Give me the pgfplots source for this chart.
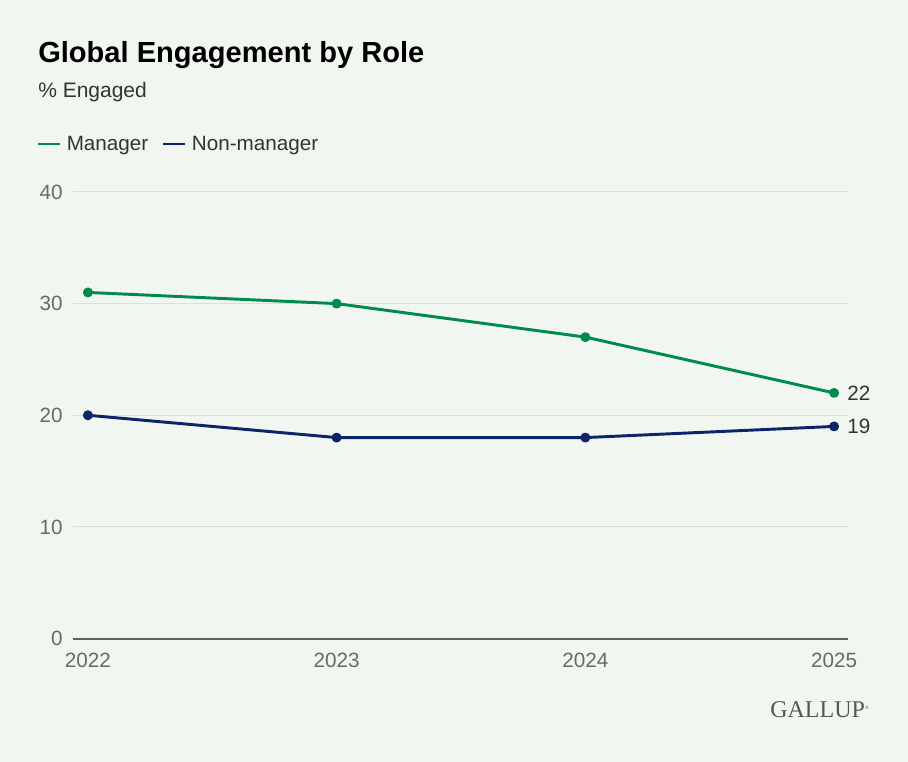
\documentclass[border=0pt]{standalone}
\usepackage{fontspec}
\setmainfont{Liberation Sans}
\newfontfamily\gallupfont{Liberation Serif}
\usepackage{pgfplots}
\pgfplotsset{compat=1.18}
\definecolor{bg}{RGB}{241,247,240}
\definecolor{mgr}{RGB}{0,138,76}
\definecolor{nonmgr}{RGB}{12,36,104}
\definecolor{gridc}{RGB}{218,223,216}
\definecolor{axisc}{RGB}{95,99,94}
\definecolor{tickc}{RGB}{105,105,105}
\definecolor{txt}{RGB}{51,51,51}
\definecolor{logo}{RGB}{85,85,85}
\begin{document}
\begin{tikzpicture}
\fill[bg] (0,0) rectangle (681pt,571.5pt);
\useasboundingbox (0,0) rectangle (681pt,571.5pt);
\node[anchor=base west, inner sep=0pt, font=\fontsize{21.8pt}{24pt}\selectfont\bfseries] at (28.5pt,524.25pt) {Global Engagement by Role};
\node[anchor=base west, inner sep=0pt, text=txt, font=\fontsize{15.75pt}{18pt}\selectfont] at (28.5pt,498pt) {\% Engaged};
\node[anchor=base west, inner sep=0pt, text=logo, font=\gallupfont\fontsize{18pt}{20pt}\selectfont] at (577.5pt,33pt) {GALLUP\raisebox{6pt}{\fontsize{4pt}{4pt}\selectfont ®}};
\begin{axis}[
  at={(54.75pt,92.6pt)}, anchor=south west,
  scale only axis, width=581.25pt, height=334.9pt,
  xmin=2021.94, xmax=2025.056, ymin=0, ymax=40,
  clip=false,
  axis line style={draw=none},
  xtick={2022,2023,2024,2025},
  xticklabels={2022,2023,2024,2025},
  ytick={10,20,30,40},
  extra y ticks={0},
  extra y tick style={grid style={draw=axisc, line width=1.5pt}},
  ymajorgrids,
  grid style={draw=gridc, line width=0.75pt},
  major tick length=0pt,
  /pgf/number format/assume math mode=true,
  tick label style={font=\fontsize{15.5pt}{18pt}\selectfont, text=tickc},
  yticklabel style={anchor=east, inner sep=0pt, xshift=-7.5pt},
  xticklabel style={anchor=north, inner sep=0pt, yshift=-10.5pt},
  legend columns=2,
  legend style={at={(-0.0478,1.1075)}, anchor=west, draw=none, fill=none,
    inner sep=0pt, font=\fontsize{15.5pt}{18pt}\selectfont, text=txt,
    nodes={inner sep=0pt},
    /tikz/every odd column/.append style={column sep=4.2pt},
    /tikz/every even column/.append style={column sep=9.75pt}},
  legend cell align=left,
  legend image post style={line width=2.2pt},
  legend image code/.code={\draw[#1, mark=none, line width=2.2pt] (0pt,0pt) -- (16.5pt,0pt);},
]
\addplot[mgr, line width=2.2pt, line join=round, mark=*, mark size=2.6pt, mark options={solid, fill=mgr, draw=mgr}]
  coordinates {(2022,31) (2023,30) (2024,27) (2025,22)}
  node[pos=1, anchor=west, inner sep=0pt, xshift=9pt, text=txt, font=\fontsize{15.5pt}{18pt}\selectfont] {22};
\addlegendentry{Manager}
\addplot[nonmgr, line width=2.2pt, line join=round, mark=*, mark size=2.6pt, mark options={solid, fill=nonmgr, draw=nonmgr}]
  coordinates {(2022,20) (2023,18) (2024,18) (2025,19)}
  node[pos=1, anchor=west, inner sep=0pt, xshift=9pt, text=txt, font=\fontsize{15.5pt}{18pt}\selectfont] {19};
\addlegendentry{Non-manager}
\end{axis}
\end{tikzpicture}
\end{document}
